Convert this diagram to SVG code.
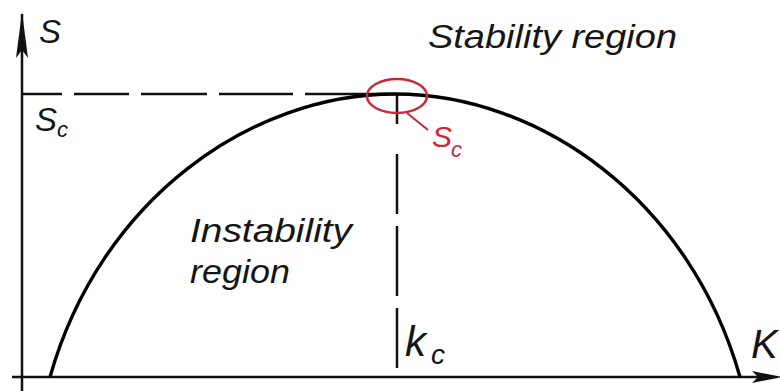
<svg xmlns="http://www.w3.org/2000/svg" width="780" height="391" viewBox="0 0 780 391">
<style>
.t{font-family:"Liberation Sans",Arial,sans-serif;font-style:italic;fill:#151515}
.r{fill:#c8283a}
.ax{stroke:#111;stroke-width:2.5;fill:none}
.ds{stroke:#111;stroke-width:2.5;fill:none}
</style>
<rect width="780" height="391" fill="#fff"/>
<g id="axes">
<line class="ax" x1="22" y1="14" x2="22" y2="391"/>
<polygon points="22,12 16,58 22,50 28,58" fill="#111"/>
<line class="ax" x1="12" y1="377" x2="770" y2="377"/>
<polygon points="782,377 752,371 758,377 752,383" fill="#111"/>
</g>
<g id="connectors">
<line class="ds" x1="22" y1="94" x2="395" y2="94" stroke-dasharray="40 12 55 12 66 12 74 12 200"/>
<line class="ds" x1="397" y1="94" x2="397" y2="377" stroke-dasharray="30 30 60 12 70 12 60 12 40"/>
<path id="curve" d="M50,377 C100,200 250,94 395,94 C540,94 690,200 740,377" fill="none" stroke="#000" stroke-width="3.4"/>
</g>
<g id="critical-point">
<ellipse cx="397" cy="96" rx="30" ry="17" fill="none" stroke="#c8283a" stroke-width="2.5"/>
<line x1="407" y1="113" x2="428" y2="130" stroke="#c8283a" stroke-width="2"/>
<text class="t r" x="432" y="147" font-size="30">S</text>
<text class="t r" x="451" y="157" font-size="22">c</text>
</g>
<g id="labels">
<text class="t" x="39" y="43" font-size="33">S</text>
<text class="t" x="35" y="131" font-size="33">S</text>
<text class="t" x="57" y="137" font-size="22">c</text>
<text class="t" x="428" y="48" font-size="33" textLength="249" lengthAdjust="spacingAndGlyphs">Stability region</text>
<text class="t" x="190" y="242" font-size="34" textLength="162" lengthAdjust="spacingAndGlyphs">Instability</text>
<text class="t" x="190" y="283" font-size="34" textLength="100" lengthAdjust="spacingAndGlyphs">region</text>
<text class="t" x="405" y="356" font-size="42">k</text>
<text class="t" x="431" y="364" font-size="28">c</text>
<text class="t" x="751" y="358" font-size="40">K</text>
</g>
</svg>
